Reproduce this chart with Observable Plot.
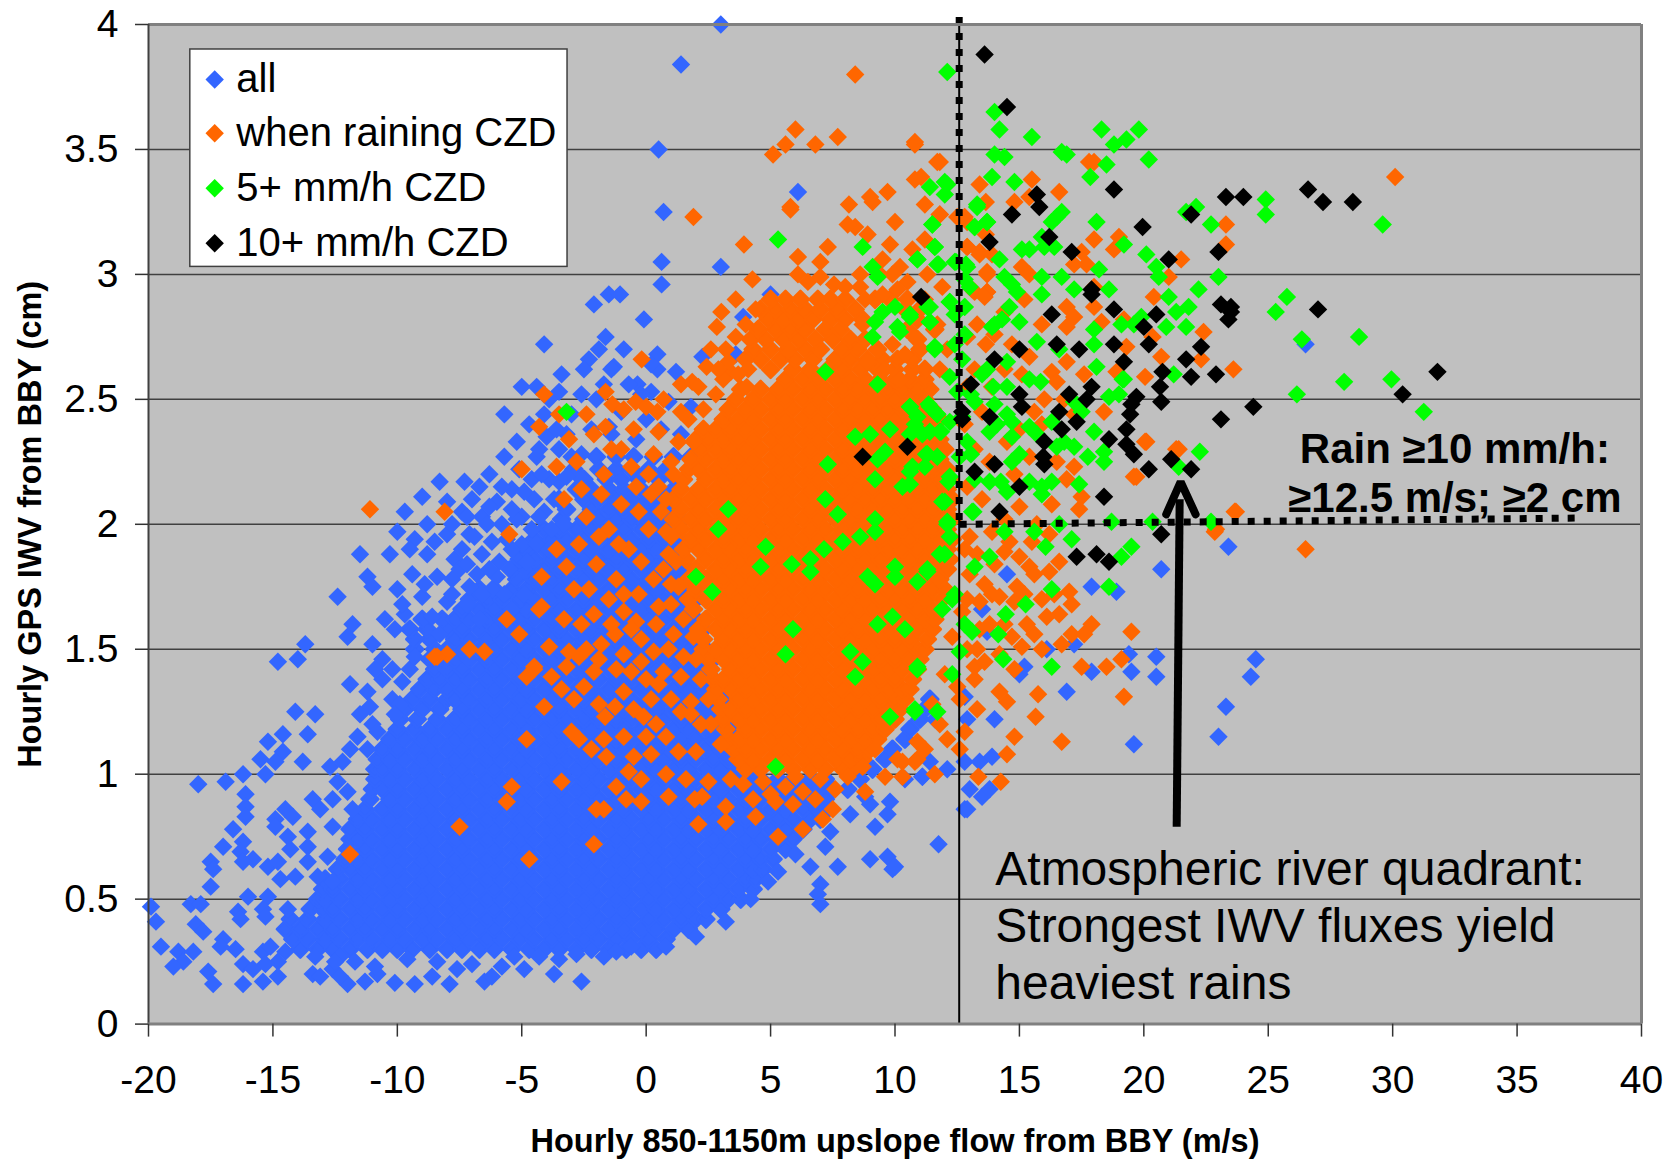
<!DOCTYPE html>
<html><head><meta charset="utf-8">
<style>html,body{margin:0;padding:0;background:#fff}svg{display:block}</style>
<script src="https://cdn.jsdelivr.net/npm/d3@7"></script>
<script src="https://cdn.jsdelivr.net/npm/@observablehq/plot@0.6"></script>
</head><body><div id="chart"></div>
<script>
const xTicks=[-20,-15,-10,-5,0,5,10,15,20,25,30,35,40];
const yTicks=[0,.5,1,1.5,2,2.5,3,3.5,4];
const legendLabels=["all","when raining CZD","5+ mm/h CZD","10+ mm/h CZD"];
const colors=["#3366ff","#ff6600","#00ff00","#000000"];

// "all": scattered points read individually [x,y]
const allScatter=[[-13.7,1.52],[-14.8,1.45],[-14,1.46],[-11.9,1.36],[-11.2,1.33],[-11.1,1.27],[-11.5,1.24],[-14.1,1.25],[-13.3,1.24],[-14.6,1.16],[-13.6,1.16],[-15.2,1.13],[-14.6,1.09],[-15.5,1.06],[-14.9,1.05],[-13.8,1.05],[-12.7,1.03],[-15.3,1],[-16.2,1],[-16.9,.97],[-18,.96],[-16.1,.92],[-16.1,.87],[-16.1,.83],[-13.4,.9],[-13.1,.86],[-14.5,.86],[-14.2,.83],[-14.9,.82],[-14.9,.79],[-16.6,.78],[-13.6,.77],[-12.6,.79],[-14.4,.75],[-17,.71],[-16.2,.73],[-16.3,.69],[-15.8,.66],[-16.2,.65],[-17.5,.65],[-17.4,.62],[-15.2,.63],[-14.8,.65],[-14.7,.58],[-14.1,.59],[-14.3,.7],[-13.6,.71],[-13.6,.65],[-12.8,.67],[-13.2,.59],[-12.6,.57],[-17.5,.55],[-16,.51],[-15.2,.51],[-18.3,.48],[-17.9,.48],[-19.9,.47],[-19.7,.41],[-16.4,.45],[-16.3,.42],[-15.4,.46],[-15.3,.43],[-18.1,.4],[-17.8,.37],[-14.4,.46],[-19.5,.31],[-18.8,.29],[-18.2,.29],[-18.6,.25],[-19,.23],[-17,.34],[-16.5,.3],[-17.1,.31],[-15.4,.29],[-15.1,.31],[-14.5,.29],[-14.8,.25],[-16.2,.24],[-15.8,.22],[-15.3,.24],[-17.6,.21],[-17.4,.16],[-16.2,.16],[-15.4,.17],[-14.8,.19],[-13.3,.27],[-13.4,.2],[-13.1,.19],[-12.3,.27],[-11.7,.25],[-12.6,.22],[-12,.16],[-12.3,.19],[-11.3,.17],[-10.8,.2],[-10.1,.165],[-10.9,.23],[-9.3,.16],[-8.6,.19],[-7.9,.16],[-7.6,.22],[-6.5,.17],[-6.2,.19],[-5.8,.23],[-4.9,.22],[-3.7,.2],[-2.6,.17],[-3.5,.26],[-1.7,.27],[-.6,.31],[.8,.31],[2,.35],[3.2,.41],[4.2,.5],[4.9,.57],[5.3,.61],[7,.56],[6.9,.52],[7,.48],[7.7,.63],[9,.66],[9.7,.67],[9.9,.62],[6.6,.63],[7.2,.71],[6,.68],[8.2,.84],[9.2,.79],[9.7,.84],[9.8,.89],[9,.88],[11.1,.99],[7.4,.77],[8.8,.91],[10,.63],[12.8,.86],[11.75,.72],[-12.5,.25],[-9.6,.26],[-8.4,.25],[-7,.24],[-5.3,.27],[-4.3,.27],[-2.8,.28],[-1.2,.29],
[23.4,1.91],[20.7,1.82],[17.9,1.75],[18.9,1.73],[20.5,1.47],[20.5,1.39],[19.5,1.41],[19.4,1.48],[17.9,1.41],[24.5,1.46],[24.3,1.39],[23.3,1.27],[23,1.15],[19.6,1.12],[16.9,1.33],[15,1.4],[15.2,1.43],[16.1,1.5],[17.2,1.52],[13.7,1.57],[12.8,1.05],[13.4,1.05],[13.9,1.07],[13,.94],[13.5,.91],[13.8,.94],[12.9,.86],[11.1,.99],[14,1.22],[12.9,1.22],[14.5,1.8],[13.5,1.66],[12.8,1.31],[11.6,1.22],[26.5,2.72],[10.4,.98],[11.4,1.05],[12.1,1.02],
[3,4],[1.4,3.84],[.5,3.5],[6.1,3.33],[.7,3.25],[.62,3.05],[.62,2.96],[3,3.03],[-.09,2.82],[-1.5,2.92],[-1.05,2.92],[-2.1,2.88],[-4.1,2.72],[-2.3,2.66],[-2.5,2.62],[-5,2.55],[-5.7,2.44],[-3.5,2.53],[-1.63,2.75],[.45,2.68],[-1.3,2.63],[.45,2.62],[1.2,2.61],[-.35,2.56],[.2,2.53],[2.26,2.67],[3.6,2.68],[3.9,2.83],[5,2.92],[.9,2.49],[1.8,2.47],[-1.4,2.62],[-.7,2.56],[-.2,2.52],[.2,2.64],[-2,2.5],[-3,2.44],[-1,2.45],[0,2.42],[-4,2.35],[-3.2,2.36],[-2.2,2.38],[-1.4,2.36],[-.4,2.34],[.6,2.38],[1.4,2.36],
[-8.3,2.17],[-7.3,2.17],[-9,2.11],[-9.7,2.05],[-8.8,2],[-8,2.09],[-6.7,2.15],[-6,2.09],[-8,1.96],[-7.1,1.96],[-8.8,1.88],[-7.7,1.86],[-10.3,1.88],[-11.5,1.88],[-11.2,1.79],[-11,1.75],[-12.4,1.71],[-10.5,1.62],[-10.1,1.58],[-9.7,1.64],[-9,1.71],[-8,1.69],[-7.1,1.75],[-6,1.79],[-5,1.92],[-4.1,2.05],[-3.5,2.17],[-2.6,2.28],[-1.5,2.39],[-9.4,1.8],[-8.4,1.79],[-10,1.97],[-9.3,1.94],[-7.4,2.05],[-6.6,2.03],[-6.2,1.93],[-5.4,2.14],[-5.1,2.22],[-4.6,2.18],[-4.4,2.27],[-11.8,1.6],[-12,1.55],[-11,1.52],[-10.6,1.46],[-10.2,1.42],[-9.8,1.37],
[-9.5,1.9],[-8.5,1.93],[-7.4,1.9],[-6.6,1.88],[-5.9,1.85],[-6.8,1.8],[-7.8,1.78],[-8.9,1.76],[-10,1.74],[-9.8,1.68],[-8.6,1.63],[-7.5,1.82],[-6.9,1.95],[-5.8,2],[-5,2.03],[-4.6,1.98],[-4.8,1.85],[-5.5,1.82],[-7.8,2],[-7,2.1],[-6.3,2.2],[-5.7,2.27],[-5.2,2.33],[-4.7,2.4],[-4.1,2.44],[-3.5,2.3],[-3,2.27],[-3.3,2],[-2.8,2.2],[-4.5,2.1],[-3.9,2.18],[-3.8,1.98],[-5.4,1.9],[-6.2,1.74],[-5.7,1.72],[-8.3,1.56],[-10.6,1.38],[-10.9,1.42],[-10.2,1.3],[-9.9,1.28],[-11,1.2],[-10.8,1.17],[-11.2,1.1],[-11.9,1.1],[-11.6,1.15],[-12.2,1.05],[-12.4,.97],[-12,.93],[-11.8,.86],[-12.6,.9],[-10.1,1.24],[-9.5,1.42],[-9.3,1.47],[-3.4,2.6],[-2.6,2.52],[-1.9,2.7],[-.9,2.7],[-1.7,2.56],[-3.9,2.5],[-4.4,2.55],
[-7.2,1.68],[-6.6,1.72],[-7.8,1.72],[-7.2,1.84],[-6.3,1.82],[-5.6,1.94],[-5.2,2.02],[-4.3,2.03],[-6.4,2],[-5.4,2.06],[-7.2,2.03],[-4.9,2.13],[-4.2,2.2],[-3.7,2.1],[-3.2,2.19],[-3.6,2.38],[-4.4,1.92],[-3.9,1.9],[-6.7,1.62],[-5.4,1.66],[-4.9,1.72],[-4.3,2.3],[-5.8,2.15],[-6.3,2.07]];
// "all": solid mass; each row is [y, x, x, x ...]
const allRows=[
[.30,-13.9,-13.2,-12.6,-11.9,-11.2,-10.6,-10,-9.4,-8.7,-8,-7.4,-6.7,-6.1,-5.4,-4.7,-4.1,-3.5,-2.8,-2.2,-1.5,-.8,-.2,.4],
[.34,-14.2,-13.6,-12.9,-12.3,-11.6,-11,-10.3,-9.7,-9,-8.4,-7.7,-7.1,-6.4,-5.8,-5.1,-4.5,-3.8,-3.2,-2.5,-1.9,-1.2,-.6,.1,.8],
[.38,-14.5,-13.9,-13.2,-12.6,-11.9,-11.3,-10.6,-10,-9.3,-8.7,-8,-7.4,-6.7,-6.1,-5.4,-4.8,-4.1,-3.5,-2.8,-2.2,-1.5,-.9,-.2,.4,1.1,1.7],
[.42,-14.3,-13.6,-12.9,-12.3,-11.6,-11,-10.3,-9.7,-9,-8.4,-7.7,-7.1,-6.4,-5.8,-5.1,-4.5,-3.8,-3.2,-2.5,-1.9,-1.2,-.6,.1,.7,1.4,2,2.4],
[.46,-13.5,-13,-12.6,-11.9,-11.3,-10.6,-10,-9.3,-8.7,-8,-7.4,-6.7,-6.1,-5.4,-4.8,-4.1,-3.5,-2.8,-2.2,-1.5,-.9,-.2,.4,1.1,1.7,2.4,3],
[.50,-13.2,-12.9,-12.3,-11.6,-11,-10.3,-9.7,-9,-8.4,-7.7,-7.1,-6.4,-5.8,-5.1,-4.5,-3.8,-3.2,-2.5,-1.9,-1.2,-.6,.1,.7,1.4,2,2.7,3.3,3.8],
[.54,-13,-12.6,-11.9,-11.3,-10.6,-10,-9.3,-8.7,-8,-7.4,-6.7,-6.1,-5.4,-4.8,-4.1,-3.5,-2.8,-2.2,-1.5,-.9,-.2,.4,1.1,1.7,2.4,3,3.7,4.3],
[.58,-12.9,-12.3,-11.6,-11,-10.3,-9.7,-9,-8.4,-7.7,-7.1,-6.4,-5.8,-5.1,-4.5,-3.8,-3.2,-2.5,-1.9,-1.2,-.6,.1,.7,1.4,2,2.7,3.3,4,4.4],
[.62,-12.4,-11.9,-11.3,-10.6,-10,-9.3,-8.7,-8,-7.4,-6.7,-6.1,-5.4,-4.8,-4.1,-3.5,-2.8,-2.2,-1.5,-.9,-.2,.4,1.1,1.7,2.4,3,3.7,4.3,4.7],
[.66,-12.1,-11.6,-11,-10.3,-9.7,-9,-8.4,-7.7,-7.1,-6.4,-5.8,-5.1,-4.5,-3.8,-3.2,-2.5,-1.9,-1.2,-.6,.1,.7,1.4,2,2.7,3.3,4,4.6,5.1],
[.70,-12,-11.3,-10.6,-10,-9.3,-8.7,-8,-7.4,-6.7,-6.1,-5.4,-4.8,-4.1,-3.5,-2.8,-2.2,-1.5,-.9,-.2,.4,1.1,1.7,2.4,3,3.7,4.3,5,5.6],
[.74,-11.9,-11.6,-11,-10.3,-9.7,-9,-8.4,-7.7,-7.1,-6.4,-5.8,-5.1,-4.5,-3.8,-3.2,-2.5,-1.9,-1.2,-.6,.1,.7,1.4,2,2.7,3.3,4,4.6,5.3,5.9],
[.78,-11.9,-11.3,-10.6,-10,-9.3,-8.7,-8,-7.4,-6.7,-6.1,-5.4,-4.8,-4.1,-3.5,-2.8,-2.2,-1.5,-.9,-.2,.4,1.1,1.7,2.4,3,3.7,4.3,5,5.6,6.3],
[.82,-11.6,-11,-10.3,-9.7,-9,-8.4,-7.7,-7.1,-6.4,-5.8,-5.1,-4.5,-3.8,-3.2,-2.5,-1.9,-1.2,-.6,.1,.7,1.4,2,2.7,3.3,4,4.6,5.3,5.9,6.6,7],
[.86,-11.3,-10.6,-10,-9.3,-8.7,-8,-7.4,-6.7,-6.1,-5.4,-4.8,-4.1,-3.5,-2.8,-2.2,-1.5,-.9,-.2,.4,1.1,1.7,2.4,3,3.7,4.3,5,5.6,6.3,6.9,7.3],
[.90,-11.1,-10.3,-9.7,-9,-8.4,-7.7,-7.1,-6.4,-5.8,-5.1,-4.5,-3.8,-3.2,-2.5,-1.9,-1.2,-.6,.1,.7,1.4,2,2.7,3.3,4,4.6,5.3,5.9,6.6,7.2],
[.94,-11,-10.6,-10,-9.3,-8.7,-8,-7.4,-6.7,-6.1,-5.4,-4.8,-4.1,-3.5,-2.8,-2.2,-1.5,-.9,-.2,.4,1.1,1.7,2.4,3,3.7,4.3,5,5.6,6.3,6.9,7.5,8.1],
[.98,-10.9,-10.3,-9.7,-9,-8.4,-7.7,-7.1,-6.4,-5.8,-5.1,-4.5,-3.8,-3.2,-2.5,-1.9,-1.2,-.6,.1,.7,1.4,2,2.7,3.3,4,4.6,5.3,5.9,6.6,7.2,8.6],
[1.02,-10.9,-10.6,-10,-9.3,-8.7,-8,-7.4,-6.7,-6.1,-5.4,-4.8,-4.1,-3.5,-2.8,-2.2,-1.5,-.9,-.2,.4,1.1,1.7,2.4,3,3.7,4.3,9.1],
[1.06,-10.8,-10.3,-9.7,-9,-8.4,-7.7,-7.1,-6.4,-5.8,-5.1,-4.5,-3.8,-3.2,-2.5,-1.9,-1.2,-.6,.1,.7,1.4,2,2.7,3.3,4,9.6],
[1.10,-10.6,-10,-9.3,-8.7,-8,-7.4,-6.7,-6.1,-5.4,-4.8,-4.1,-3.5,-2.8,-2.2,-1.5,-.9,-.2,.4,1.1,1.7,2.4,3,3.7,9.9],
[1.14,-10.3,-9.7,-9,-8.4,-7.7,-7.1,-6.4,-5.8,-5.1,-4.5,-3.8,-3.2,-2.5,-1.9,-1.2,-.6,.1,.7,1.4,2,2.7,3.3,10.4],
[1.18,-10,-9.3,-8.7,-8,-7.4,-6.7,-6.1,-5.4,-4.8,-4.1,-3.5,-2.8,-2.2,-1.5,-.9,-.2,.4,1.1,1.7,2.4,3,3.6,10.6],
[1.22,-9.9,-9.2,-8.4,-7.7,-7.1,-6.4,-5.8,-5.1,-4.5,-3.8,-3.2,-2.5,-1.9,-1.2,-.6,.1,.7,1.4,2,2.7,3.3,11],
[1.26,-9.7,-9,-8.3,-7.4,-6.7,-6.1,-5.4,-4.8,-4.1,-3.5,-2.8,-2.2,-1.5,-.9,-.2,.4,1.1,1.7,2.4,3,11.2],
[1.30,-9.4,-8.7,-8,-7.7,-7.1,-6.4,-5.8,-5.1,-4.5,-3.8,-3.2,-2.5,-1.9,-1.2,-.6,.1,.7,1.4,2,2.7,3.3,11.4],
[1.34,-9.1,-8.5,-8,-7.4,-6.7,-6.1,-5.4,-4.8,-4.1,-3.5,-2.8,-2.2,-1.5,-.9,-.2,.4,1.1,1.7,2.4,3],
[1.38,-8.8,-8.3,-7.7,-7.1,-6.4,-5.8,-5.1,-4.5,-3.8,-3.2,-2.5,-1.9,-1.2,-.6,.1,.7,1.4,2,2.7],
[1.42,-8.5,-8,-7.4,-6.7,-6.1,-5.4,-4.8,-4.1,-3.5,-2.8,-2.2,-1.5,-.9,-.2,.4,1.1,1.7,2.4],
[1.46,-8.7,-8.1,-7.7,-7.1,-6.4,-5.8,-5.1,-4.5,-3.8,-3.2,-2.5,-1.9,-1.2,-.6,.1,.7,1.4,2,2.7],
[1.50,-9.3,-8.5,-8,-7.4,-6.7,-6.1,-5.4,-4.8,-4.1,-3.5,-2.8,-2.2,-1.5,-.9,-.2,.4,1.1,1.7,2.4],
[1.54,-9.3,-8.7,-7.7,-7.1,-6.4,-5.8,-5.1,-4.5,-3.8,-3.2,-2.5,-1.9,-1.2,-.6,.1,.7,1.4,2],
[1.58,-9.5,-8.8,-8,-7.4,-6.7,-6.1,-5.4,-4.8,-4.1,-3.5,-2.8,-2.2,-1.5,-.9,-.2,.4,1.1,1.7,2.3],
[1.62,-9,-8.2,-7.7,-7.1,-6.4,-5.8,-5.1,-4.5,-3.8,-3.2,-2.5,-1.9,-1.2,-.6,.1,.7,1.4,2],
[1.66,-7.4,-6.7,-6.1,-5.4,-4.8,-4.1,-3.5,-2.8,-2.2,-1.5,-.9,-.2,.4,1.1,1.7],
[1.70,-7.1,-6.4,-5.8,-5.1,-4.5,-3.8,-3.2,-2.5,-1.9,-1.2,-.6,.1,.7,1.4,2],
[1.74,-6.7,-6.1,-5.4,-4.8,-4.1,-3.5,-2.8,-2.2,-1.5,-.9,-.2,.4,1.1,1.7],
[1.78,-5.2,-4.5,-3.8,-3.2,-2.5,-1.9,-1.2,-.6,.1,.7,1.4],
[1.82,-5.4,-4.8,-4.1,-3.5,-2.8,-2.2,-1.5,-.9,-.2,.4,1.1,1.7],
[1.86,-5.1,-4.5,-3.8,-3.2,-2.5,-1.9,-1.2,-.6,.1,.7,1.4],
[1.90,-4.8,-4.1,-3.5,-2.8,-2.2,-1.5,-.9,-.2,.4,1.1],
[1.94,-4.5,-3.8,-3.2,-2.5,-1.9,-1.2,-.6,.1,.7,1.4],
[1.98,-4.1,-3.5,-2.8,-2.2,-1.5,-.9,-.2,.4,1.1],
[2.02,-3.4,-2.5,-1.9,-1.2,-.6,.1,.7,1.4],
[2.06,-3.2,-2.2,-1.5,-.9,-.2,.4,1.1],
[2.10,-3.5,-2.5,-1.9,-1.2,-.6,.1,.7],
[2.14,-2.8,-2.2,-1.5,-.9,-.2,.4,1.1],
[2.18,-2.5,-1.6,-1,-.3,.5,1.2],
[2.22,-2.9,-1.9,-1.2,-.6,.1,.8],
[2.27,-2,-1.2,-.5,.3,1.1,1.8]];

// "when raining CZD": scattered points read individually [x,y]
const rainScatter=[[1.9,3.23],[3.93,3.12],[5.8,3.26],[8.15,3.28],[9.1,3.29],[8.4,3.19],[8.9,3.16],[10,3.21],[11.8,3.24],[12.8,3.23],[6.1,3.07],[7,3.05],[9.5,3.06],[12.9,3.11],[13.4,3.09],[13.7,3.01],[13.2,2.93],[13.7,2.93],[4.27,2.98],[3.6,2.9],[3.02,2.85],[2.84,2.79],[6.1,3],[6.5,2.97],[7,2.99],[7.55,2.96],[8,2.95],[8.6,3],[8.6,2.95],[10.2,3.03],[10.5,2.97],[10.1,2.94],[-.18,2.66],[2.6,2.7],[2.43,2.63],[3.4,2.61],[1.4,2.56],[1.85,2.57],[4.04,2.55],[-1.36,2.48],[-.9,2.46],[-.42,2.49],[.45,2.45],[-1.63,2.39],[-1.63,2.53],
[-5.6,1.62],[-4.2,1.67],[-5.1,1.56],[-2.1,1.64],[-.9,1.65],[-.4,1.61],[-7.1,1.5],[-8,1.48],[-8.4,1.47],[-3.9,1.51],[-3.1,1.49],[-2.7,1.47],[-4.5,1.43],[-4.8,1.39],[-3.8,1.39],[-3.2,1.43],[-2.1,1.41],[-3.4,1.34],[-2.5,1.35],[-1.25,1.56],[-1.8,1.52],[-.9,1.48],[-1.9,1.46],[-.2,1.54],[1.1,1.56],[.3,1.49],[-.6,1.41],[0,1.38],[.7,1.41],[1.4,1.39],[-4.1,1.27],[-1.65,1.23],[-1.25,1.27],[-.5,1.26],[-.1,1.23],[.2,1.3],[1,1.3],[1.8,1.29],[1.8,1.24],[-4.8,1.14],[-3,1.17],[-2.7,1.14],[-2.2,1.1],[-1.6,1.07],[0,1.15],[.8,1.15],[1.3,1.09],[2,1.09],[-.5,1.07],[-.7,1.01],[-.2,.98],[2.5,.97],[3.4,.98],[-5.4,.95],[-5.6,.89],[-3.4,.97],[-7.5,.79],[-11.9,.68],[-1.2,.95],[-.8,.9],[-.2,.89],[-2,.86],[-1.7,.86],[.9,.91],[1.95,.9],[2.25,.91],[3.2,.87],[2.1,.8],[3.2,.81],[4.4,.83],[4.3,.9],[5.2,.89],[5.9,.88],[7.5,.86],[7.1,.82],[6.3,.78],[5.3,.75],[-2.1,.72],[-4.7,.66],[8.8,.93],[10.1,1.06],[10.9,1.06],[9.6,.99],[10.3,.99],
[-11.1,2.06],[-4.1,2.52],[-4.3,2.39],[-5,2.22],[-5.5,1.96],[-4.3,1.66],[-4.2,1.79],[-4.5,1.42],[-6.5,1.49],[-8.5,1.47],[-8.1,2.05],[-3.3,2.1],[-3.6,1.9],[-2.8,2.25],[-1.7,2.2],[-1,2.3],[-.4,2.15],[.3,2.28],[.8,2.1],[-2.4,2.03],[-1.5,1.98],[-.7,1.9],[.1,1.98],[.7,1.82],[-1.2,1.78],[-2,1.84],[-2.9,1.74],[-.3,1.72],[.5,1.67],[-1.5,1.7],[1.1,2.2],[1,1.95],
[8.4,3.8],[5.6,3.52],[5.1,3.48],[6.8,3.52],[7.7,3.55],[10.8,3.53],[11.8,3.45],[10.8,3.38],[5.8,3.27],[11.2,3.28],[9.7,3.33],[8.1,3.2],[7.3,3.11],[30.1,3.39],[17.8,3.45],[6,3.58],[9,3.31],
[19.7,2.19],[20.1,2.33],[21.4,2.3],[23.7,2.05],[22.9,1.98],[26.5,1.9],[19.5,1.57],[19.1,1.46],[17.5,1.43],[18.5,1.43],[19.2,1.31],[15.75,1.32],[15.65,1.23],[16.7,1.13],[14.8,1.15],[14.5,1.08],[14.25,.97],[13.35,.99],[11.6,1],[10.8,1.05],[17.9,1.6],[17.6,1.56],[17.1,1.56],[17,1.73],[17.1,1.68],[16.6,1.64],[16.1,1.63],[16.7,1.52],[15.6,1.56],[15.1,1.51],[15.3,1.6],[16.6,1.85],[16.2,1.81],[15.4,1.83],[15.6,1.8],[15,1.87],[14.4,1.89],[14,1.84],[13.6,1.76],[13.9,1.72],[13.4,1.69],[14.2,1.71],[14.8,1.69],[13.2,1.43],[13.6,1.45],[14.2,1.48],[13.2,1.38],[14.2,1.33],[14.5,1.29],[13.3,1.26],[12.8,1.17],[12.1,1.14],[10.9,1.13],[11.2,1.1],[12.6,1.1],[10.3,1.05],[12.6,1.3],[12.9,1.5],[12.7,1.65],[13,1.8],[12.5,1.35],[11.8,1.2],[11.5,1.28],[12,1.4],[12.3,1.55],
[10.8,3.52],[11.7,3.45],[11.05,3.39],[13.4,3.36],[15.5,3.38],[16.6,3.33],[14.8,3.29],[13.65,3.29],[15.4,3.31],[18,3.45],[11.8,3.24],[12.5,3.23],[12.9,3.21],[13.4,3.08],[12.9,3.11],[13.65,3.16],[18,3.14],[19,3.15],[18.8,3.1],[23.3,3.2],[23.3,3.12],[21.5,3.06],[21,2.99],[17.5,3.09],[17.7,3.04],[17.2,3.04],[15.1,3.03],[15.4,3],[13.7,3],[13.1,2.94],[13.7,2.93],[13.6,2.91],[20.4,2.91],[16.9,2.87],[17.2,2.83],[16.9,2.79],[18,2.87],[18.3,2.81],[18,2.95],[19.2,2.82],[22.4,2.77],[20.35,2.75],[19.3,2.71],[20.7,2.67],[22.3,2.66],[23.6,2.62],[20.05,2.59],[18.9,2.61],[17.6,2.6],[16.9,2.65],[16.3,2.61],[16.5,2.57],[15.4,2.67],[14.7,2.72],[13.65,2.72],[14,2.76],[16,2.5],[18.4,2.45],[20.05,2.33],[21.3,2.3],[19.6,2.19],[17.2,2.23],[16.3,2.08],[17.4,2.06],[17.5,2.11],[23.65,2.05],[22.85,1.97],[13.2,2.62],[13.9,2.55],[14.4,2.62],[15.1,2.6],[15.6,2.45],[16.8,2.5],[17.2,2.44],[13.5,2.45],[14.5,2.33],[15,2.38],[15.9,2.4],[16.5,2.25],[13.2,2.3],[13.8,2.25],[14.8,2.2],[15.4,2.27],[12.9,2.15],[13.5,2.1],[14.4,2.02],[15,2.07],[15.7,2],[16.9,2.18],[13,1.95],[13.9,1.97],[14.6,1.93],[15.5,1.93],[16.2,1.96],[12.9,2.75],[12.9,2.55],[12.8,2.4],[13.3,2.8],[14.4,2.85],[15.9,2.8],[15.2,2.9],[13.9,3.08],
[4.7,.97],[5.6,.95],[6.3,.93],[7,.98],[7.6,.94],[8.1,.99],[8.7,1.03],[3.9,.96],[5,.92],[6,.99],[6.8,.9],[9.2,1.1],[3,1.12],[2.6,1.2],[2.5,1.3],[2.2,1.38],[2,1.46],[1.9,1.55],[1.5,1.62],[1.3,1.75],[1.2,1.85],[.8,1.97],[.6,2.05],[.5,2.15],[1,2.25],[1.3,2.33],[1.7,2.42],[2.3,2.46],[2.8,2.52],[3.1,2.58],[3.3,2.65],
[3.2,2.7],[3.6,2.75],[4,2.8],[4.4,2.86],[4.1,2.62],[3.7,2.6],[8.8,2.9],[9.3,2.7],[9.9,2.72],[10.4,2.68],[8.9,2.65],[9.6,2.62],[10.2,2.58],[8.7,2.8],[9.5,2.92],[10.8,2.75],[11.2,2.9],[11.7,2.8],[11.9,2.95],[11.3,3],[11.8,2.62],[12.1,2.7],[9.4,3],[9.9,3],[10.7,3.1],[11.2,3.14],[9.8,3.12],
[12.8,1.9],[13.3,1.88],[12.9,1.7],[13.4,1.58],[13.8,1.6],[14.4,1.6],[14.9,1.75],[15.2,1.72],[15.9,1.7],[16.4,1.72],[13.3,1.5],[14.7,1.55],[15.9,1.5],[14.8,1.42],
[-2.6,1.6],[-1.4,1.6],[-.6,1.58],[.4,1.6],[1,1.68],[-3.3,1.62],[-2.4,1.5],[-1.2,1.42],[-.2,1.45],[.9,1.5],[1.5,1.47],[-2.9,1.3],[-1.9,1.28],[-.9,1.33],[.5,1.36],[1.4,1.25],[2.2,1.2],[.4,1.2],[-.9,1.15],[-1.7,1.14],[.2,1.08],[.8,1],[1.6,.98],[-.3,2.05],[-1,2.08],[-1.8,2.12],[-2.6,2.14],[.2,2.12],[-.6,2.23],[-1.4,2.3],[-2.1,2.36],[-.5,2.38],[.5,2.37],[1.4,2.45],[.7,2.5],[0,2.47],[2.1,2.55],[2.9,2.62],[1.9,2.33],[.9,1.88],[-.2,1.85],[-1.1,1.92],[-2.7,1.92],[-3.2,1.83],[-1.9,1.95],[.3,1.78],[1,1.76],[-.9,1.72],[-2.3,1.74],[.1,2.2],[-3.6,2.23],[-3.1,2.34],[-2.4,2.44],[-3.5,2.44]];
// "when raining CZD": solid mass; each row is [y, x, x, x ...]
const rainRows=[
[1.02,4,4.6,5.3,5.9,6.6,7.2,7.9,8.3],
[1.06,3.7,4.3,5,5.6,6.3,6.9,7.6,8.2,8.7],
[1.10,3.5,4,4.6,5.3,5.9,6.6,7.2,7.9,8.5,9],
[1.14,3.3,3.7,4.3,5,5.6,6.3,6.9,7.6,8.2,8.8,9.3],
[1.18,3.2,4,4.6,5.3,5.9,6.6,7.2,7.9,8.5,9.1,9.6],
[1.22,3.1,3.7,4.3,5,5.6,6.3,6.9,7.6,8.2,8.8,9.4,10],
[1.26,3,3.4,4,4.6,5.3,5.9,6.6,7.2,7.9,8.5,9.1,9.7,10.2],
[1.30,2.9,3.7,4.3,5,5.6,6.3,6.9,7.6,8.2,8.8,9.4,10,10.4],
[1.34,2.8,3.4,4,4.6,5.3,5.9,6.6,7.2,7.9,8.5,9.1,9.7,10.3,10.6],
[1.38,2.7,3.1,3.7,4.3,5,5.6,6.3,6.9,7.6,8.2,8.8,9.4,10,10.7],
[1.42,2.6,3.4,4,4.6,5.3,5.9,6.6,7.2,7.9,8.5,9.1,9.7,10.3,10.9],
[1.46,2.5,3.1,3.7,4.3,5,5.6,6.3,6.9,7.6,8.2,8.8,9.4,10,10.6,11],
[1.50,2.3,2.8,3.4,4,4.6,5.3,5.9,6.6,7.2,7.9,8.5,9.1,9.7,10.3,10.9,11.2],
[1.54,2.3,3.1,3.7,4.3,5,5.6,6.3,6.9,7.6,8.2,8.8,9.4,10,10.6,11.3],
[1.58,2.1,2.8,3.4,4,4.6,5.3,5.9,6.6,7.2,7.9,8.5,9.1,9.7,10.3,10.9,11.5],
[1.62,2.4,3.1,3.7,4.3,5,5.6,6.3,6.9,7.6,8.2,8.8,9.4,10,10.6,11.2,11.6],
[1.66,1.9,2.8,3.4,4,4.6,5.3,5.9,6.6,7.2,7.9,8.5,9.1,9.7,10.3,10.9,11.5,11.8],
[1.70,1.7,2.4,3.1,3.7,4.3,5,5.6,6.3,6.9,7.6,8.2,8.8,9.4,10,10.6,11.2,11.9],
[1.74,2,2.8,3.4,4,4.6,5.3,5.9,6.6,7.2,7.9,8.5,9.1,9.7,10.3,10.9,11.5,12],
[1.78,1.7,2.4,3.1,3.7,4.3,5,5.6,6.3,6.9,7.6,8.2,8.8,9.4,10,10.6,11.2,11.8],
[1.82,2,2.8,3.4,4,4.6,5.3,5.9,6.6,7.2,7.9,8.5,9.1,9.7,10.3,10.9,11.5,12.1],
[1.86,1.6,2.4,3.1,3.7,4.3,5,5.6,6.3,6.9,7.6,8.2,8.8,9.4,10,10.6,11.2,11.8,12.2],
[1.90,1.5,2.1,2.8,3.4,4,4.6,5.3,5.9,6.6,7.2,7.9,8.5,9.1,9.7,10.3,10.9,11.5,12.1],
[1.94,1.8,2.4,3.1,3.7,4.3,5,5.6,6.3,6.9,7.6,8.2,8.8,9.4,10,10.6,11.2,11.8,12.3],
[1.98,1.4,2.1,2.8,3.4,4,4.6,5.3,5.9,6.6,7.2,7.9,8.5,9.1,9.7,10.3,10.9,11.5,12.1],
[2.02,1.1,1.8,2.4,3.1,3.7,4.3,5,5.6,6.3,6.9,7.6,8.2,8.8,9.4,10,10.6,11.2,11.8,12.3],
[2.06,1.4,2.1,2.8,3.4,4,4.6,5.3,5.9,6.6,7.2,7.9,8.5,9.1,9.7,10.3,10.9,11.5,12.1],
[2.10,1.1,1.8,2.4,3.1,3.7,4.3,5,5.6,6.3,6.9,7.6,8.2,8.8,9.4,10,10.6,11.2,11.8,12.3],
[2.14,1.4,2.1,2.8,3.4,4,4.6,5.3,5.9,6.6,7.2,7.9,8.5,9.1,9.7,10.3,10.9,11.5,12.1],
[2.18,1.5,2.4,3.1,3.7,4.3,5,5.6,6.3,6.9,7.6,8.2,8.8,9.4,10,10.6,11.2,11.8,12.2],
[2.22,1.7,2.1,2.8,3.4,4,4.6,5.3,5.9,6.6,7.2,7.9,8.5,9.1,9.7,10.3,10.9,11.5,12.1],
[2.26,1.8,2.4,3.1,3.7,4.3,5,5.6,6.3,6.9,7.6,8.2,8.8,9.4,10,10.6,11.2,11.8],
[2.30,2.2,2.8,3.4,4,4.6,5.3,5.9,6.6,7.2,7.9,8.5,9.1,9.7,10.3,10.9,11.5,12],
[2.34,2,2.5,3.1,3.7,4.3,5,5.6,6.3,6.9,7.6,8.2,8.8,9.4,10,10.6,11.2,11.8],
[2.38,2.3,2.8,3.4,4,4.6,5.3,5.9,6.6,7.2,7.9,8.5,9.1,9.7,10.3,10.9,11.5],
[2.42,3.1,3.7,4.3,5,5.6,6.3,6.9,7.6,8.2,8.8,9.4,10,10.6,11.2,11.8],
[2.46,3.3,4,4.6,5.3,5.9,6.6,7.2,7.9,8.5,9.1,9.7,10.3,10.9,11.5],
[2.50,3.6,4.3,5,5.6,6.3,6.9,7.6,8.2,8.8,9.4,10,10.6,11.2],
[2.54,3.8,4.6,5.3,5.9,6.6,7.2,7.9,8.5,9.1,9.7,10.3,10.9,11.4],
[2.58,5.6,6.3,6.9,7.6,8.2,8.8,9.4,10,10.6,11.2],
[2.62,5,5.9,6.6,7.3,7.9,8.6,9.3,10,10.7,11.2],
[2.66,4,4.6,5.4,6,6.7,7.6,8.2,8.9,9.5,10.1,10.7],
[2.70,4.3,5,5.7,6.4,7,7.9,8.5,9.3,11],
[2.74,4.2,4.8,5.5,6.1,6.8,7.5,8.2,8.8,10.9],
[2.78,4.5,5.2,5.8,6.4,7.2,7.8,10.5,11.6],
[2.82,4.9,5.5,6.1,6.7,7.4,8,8.7,10.9],
[2.86,4.6,5.2,5.8,6.4,7,7.7,8.4,10.4,11],
[2.90,5,5.6,6.2,6.9,7.4,8,9.2,9.8,10.5]];

// "5+ mm/h CZD" [x,y]
const fivePts=[[12.1,3.81],[14,3.65],[14.2,3.58],[15.5,3.55],[18.3,3.58],[19.8,3.58],[19.3,3.54],[18.8,3.52],[14,3.48],[14.4,3.47],[16.7,3.49],[16.9,3.48],[18.5,3.44],[20.2,3.46],[17.85,3.39],[13.9,3.39],[14.8,3.37],[12.1,3.36],[11.4,3.35],[12,3.32],[13.3,3.28],[22.1,3.27],[21.7,3.25],[24.9,3.3],[24.9,3.24],[22.7,3.2],[29.6,3.2],[11.5,3.2],[13.2,3.19],[13.7,3.21],[16.7,3.25],[16.3,3.21],[16.5,3.23],[18.1,3.21],[15.9,3.15],[16,3.11],[16.4,3.11],[15.1,3.1],[15.4,3.1],[19.2,3.12],[20.1,3.08],[11.6,3.11],[10.9,3.06],[11.75,3.04],[12.9,3.03],[14.2,3.06],[12.45,3.05],[18.2,3.02],[20.5,3.03],[20.6,2.99],[23,2.99],[14.4,2.99],[14.7,2.96],[14.9,2.93],[15.9,2.99],[16.7,2.99],[15.9,2.92],[17.2,2.94],[18.6,2.94],[21,2.91],[22.2,2.94],[21.8,2.87],[25.75,2.91],[25.3,2.85],[12.2,2.89],[12.8,2.87],[14.6,2.87],[11.3,2.87],[10.6,2.84],[11.4,2.81],[15,2.81],[14,2.8],[14.3,2.82],[19.1,2.8],[19.9,2.83],[19.6,2.8],[20.9,2.79],[21.3,2.85],[21.7,2.79],[18,2.78],[15.7,2.73],[18,2.72],[11.6,2.7],[16.6,2.7],[26.35,2.74],[28.65,2.75],[14.5,2.65],[18.1,2.63],[19.2,2.58],[21.2,2.6],[28.05,2.57],[29.95,2.58],[26.15,2.52],[31.25,2.45],
[22.25,2.29],[21.4,2.23],[18.4,2.29],[18.4,2.25],[17.75,2.27],[22.7,2.01],[18.7,2.01],[20.35,2.01],[18.6,1.75],[16.3,1.43],[5.2,1.03],[-3.2,2.45],[5.3,3.14],[12,3.37],
[8.7,3.11],[9.1,3.03],[9.3,2.99],[10.9,3.06],[11.6,3.11],[11.7,3.04],[11.5,3.2],[12.4,3.05],[12.85,3.04],[13.2,3.19],[13.7,3.21],[13.3,3.27],[9.1,2.75],[9.2,2.81],[9.5,2.85],[10,2.87],[10.1,2.79],[10.2,2.77],[10.6,2.83],[11.4,2.87],[11.4,2.81],[11.6,2.71],[12.2,2.89],[12.4,2.84],[12.8,2.87],[12.8,2.76],[13.9,2.79],[7.2,2.61],[9.3,2.56],[12.2,2.59],[13.7,2.62],[10.6,2.47],[10.9,2.43],[11.4,2.47],[11.7,2.44],[9.8,2.38],[8.4,2.35],[9,2.36],[9.6,2.29],[9.3,2.26],[7.3,2.24],[9.2,2.18],[10.6,2.36],[11.4,2.37],[11.8,2.37],[11.7,2.27],[11.3,2.28],[10.6,2.21],[11.2,2.23],[10.3,2.15],[10.6,2.16],[12.2,2.19],[12,2.09],[12.1,2.01],[13.1,2.05],[7.2,2.1],[7.7,2.04],[9.2,2.02],[9.2,1.97],[8.6,1.95],[7.9,1.93],[7.15,1.9],[6.6,1.86],[6.6,1.81],[5.85,1.84],[4.6,1.83],[4.8,1.91],[3.3,2.06],[2.9,1.98],[2,1.79],[2.66,1.73],[8.9,1.79],[9.2,1.76],[10,1.83],[10,1.79],[11.3,1.82],[10.9,1.77],[12.2,1.95],[11.8,1.88],[13.8,1.87],[13.2,1.83],[12.4,1.72],
[5.9,1.58],[5.6,1.48],[8.2,1.49],[8.7,1.45],[9.3,1.6],[9.9,1.63],[10.4,1.58],[10.9,1.43],[8.4,1.39],[9.8,1.23],[10.8,1.26],
[17.1,1.94],[16.05,1.91],[19.5,1.91],[19.1,1.87],[12,1.88],[11.3,1.81],[16.3,1.74],[12.3,1.7],[11.9,1.66],[15.25,1.68],[14.45,1.64],[12.8,1.6],[13.1,1.57],[14.15,1.56],[12.6,1.49],[14.35,1.46],[10.9,1.42],[12.3,1.4],[10.8,1.25],[11.7,1.25],
[13.05,2.52],[13.5,2.6],[13.2,2.49],[13.95,2.55],[14.5,2.55],[14.5,2.44],[14.1,2.4],[13.8,2.37],[14.7,2.41],[14.7,2.35],[15.4,2.58],[15.85,2.57],[15.4,2.39],[15.7,2.36],[15,2.28],[14.7,2.25],[14.25,2.17],[13.8,2.17],[14.5,2.13],[15.4,2.17],[15.9,2.15],[16.3,2.17],[15.9,2.12],[17.4,2.16],[16.5,2.31],[16.8,2.33],[17.2,2.31],[17.2,2.49],[17.5,2.45],[18,2.37],[18.6,2.51],[19,2.52],[19.15,2.58],[16.3,2.41],[14,2.48],[11.7,2.44],[10.6,2.47],[10.8,2.4],[11.35,2.48],[11.85,2.37],[11.1,2.36],[12.2,2.41],[11.25,2.28],[10.7,2.23],[11.9,2.09],[13.15,2.05],[12.15,2.17],[13.05,2.28],[12.1,2],[14.4,1.97],[15.6,1.97],[16.6,2],[12.9,2.33],[12.5,2.53],[13.2,2.18],[12.6,2.27],[12.7,2.43],[12.4,2.72],[12.7,2.66],[13,2.95],[12.8,2.98]];

// "10+ mm/h CZD" [x,y]
const tenPts=[[13.6,3.88],[14.5,3.67],[15.7,3.32],[15.8,3.27],[14.7,3.24],[18.8,3.34],[23.3,3.31],[24,3.31],[26.6,3.34],[27.2,3.29],[28.4,3.29],[19.95,3.19],[21.9,3.24],[13.8,3.13],[16.2,3.15],[17.1,3.09],[23,3.09],[21,3.06],[11.05,2.91],[17.9,2.94],[17.9,2.92],[16.3,2.84],[18.8,2.86],[20.5,2.84],[20,2.79],[23.1,2.88],[23.5,2.87],[23.5,2.85],[23.4,2.82],[27,2.86],[15,2.7],[16.5,2.72],[17.4,2.7],[18.8,2.72],[20.2,2.72],[22.3,2.71],[19.2,2.65],[21.7,2.66],[14,2.66],[20.75,2.61],[21.9,2.59],[22.9,2.6],[31.8,2.61],[30.4,2.52],[13.05,2.56],[15,2.52],[15.1,2.47],[17,2.52],[17.9,2.55],[17.7,2.5],[19.7,2.51],[19.5,2.48],[19.45,2.44],[20.65,2.55],[20.7,2.49],[12.7,2.45],[12.7,2.42],[13.8,2.43],[16.6,2.45],[17.3,2.41],[16.7,2.38],[24.4,2.47],[23.1,2.42],[19.3,2.38],[18.6,2.34],[19.3,2.32],[19.6,2.28],[16,2.33],[15.96,2.27],[16,2.24],[10.5,2.31],[14,2.24],[13.2,2.21],[21.1,2.26],[21.9,2.22],[20.2,2.22],[15,2.15],[18.4,2.11],[14.2,2.05],[20.7,1.96],[17.3,1.87],[18.1,1.88],[18.6,1.85],[8.7,2.27]];

const expand=rows=>rows.flatMap(([y,...xs])=>xs.map(x=>[x,y]));

const vLine=[[12.58,0],[12.58,4.03]];
const vDots=[[12.58,4.03],[12.58,2]];
const hDots=[[12.6,2],[37.5,2.025]];
const arrowShaft=[[21.32,.79],[21.44,2.1]];
const arrowHead=[[20.9,2.04],[21.48,2.17],[22.08,2.04]];
const legendSwatchY=[3.78,3.565,3.345,3.125];

const sym={symbol:"diamond2",r:8.3,stroke:"none"};
const F="'Liberation Sans',Arial,sans-serif";
const dots=(d,c)=>Plot.dot(d,{x:p=>p[0],y:p=>p[1],fill:c,...sym});
const massDots=(d,c)=>Plot.dot(d,{x:p=>p[0],y:p=>p[1],fill:c,symbol:"diamond2",r:7.6,stroke:c,strokeWidth:2.6,strokeLinejoin:"round"});
const path=(d,o)=>Plot.line(d,{x:p=>p[0],y:p=>p[1],stroke:"#000",strokeLinecap:"butt",...o});

const chart=Plot.plot({
  width:1672,height:1160,marginLeft:148,marginRight:31,marginTop:24,marginBottom:136.4,
  style:{background:"#fff",fontFamily:F},
  x:{domain:[-20,40],axis:null},
  y:{domain:[0,4],axis:null},
  marks:[
    Plot.frame({fill:"#c0c0c0",stroke:null}),
    Plot.ruleY(yTicks.slice(1,-1),{stroke:"#404040",strokeWidth:1.5}),
    massDots(expand(allRows),colors[0]),
    dots(allScatter,colors[0]),
    massDots(expand(rainRows),colors[1]),
    dots(rainScatter,colors[1]),
    dots(fivePts,colors[2]),
    dots(tenPts,colors[3]),
    path(vLine,{strokeWidth:2}),
    path(vDots,{strokeWidth:7,strokeDasharray:"7,9"}),
    path(hDots,{strokeWidth:7,strokeDasharray:"7,9"}),
    path(arrowShaft,{strokeWidth:8}),
    path(arrowHead,{strokeWidth:8,strokeLinecap:"round",strokeLinejoin:"miter"}),
    Plot.ruleX([40],{stroke:"#808080",strokeWidth:3}),
    Plot.ruleY([4],{stroke:"#808080",strokeWidth:3}),
    Plot.ruleX([-20],{stroke:"#404040",strokeWidth:2}),
    Plot.ruleY([0],{stroke:"#808080",strokeWidth:3}),
    Plot.axisX(xTicks,{anchor:"bottom",tickSize:13,tickPadding:28,fontSize:39,tickFormat:d=>String(d),label:null,stroke:"#333",strokeWidth:1.5}),
    Plot.axisY(yTicks,{anchor:"left",tickSize:13,tickPadding:17,fontSize:39,tickFormat:d=>String(d),label:null,stroke:"#333",strokeWidth:1.5}),
    Plot.rect([0],{x1:-18.32,x2:-3.16,y1:3.03,y2:3.9,fill:"#fff",stroke:"#404040",strokeWidth:1.5}),
    Plot.dot(legendLabels,{x:()=>-17.34,y:(d,i)=>legendSwatchY[i],fill:(d,i)=>colors[i],symbol:"diamond2",r:8.3}),
    Plot.text(legendLabels,{x:()=>-16.47,y:(d,i)=>legendSwatchY[i],text:d=>d,textAnchor:"start",fontSize:40,fill:"#000"}),
    Plot.text(["Rain ≥10 mm/h:","≥12.5 m/s; ≥2 cm"],{x:()=>32.5,y:(d,i)=>[2.3,2.105][i],text:d=>d,fontSize:42,fontWeight:"bold",fill:"#000"}),
    Plot.text(["Atmospheric river quadrant:","Strongest IWV fluxes yield","heaviest rains"],{x:()=>14.03,y:(d,i)=>[.62,.39,.16][i],text:d=>d,textAnchor:"start",fontSize:48,fill:"#000"}),
    Plot.text(["Hourly 850-1150m upslope flow from BBY (m/s)"],{x:()=>10,y:()=>-.47,text:d=>d,fontSize:32.5,fontWeight:"bold",fill:"#000"}),
    Plot.text(["Hourly GPS IWV from BBY (cm)"],{x:()=>-24.75,y:()=>2,text:d=>d,rotate:-90,fontSize:32.5,fontWeight:"bold",fill:"#000"})
  ]
});
document.getElementById("chart").append(chart);
</script></body></html>
